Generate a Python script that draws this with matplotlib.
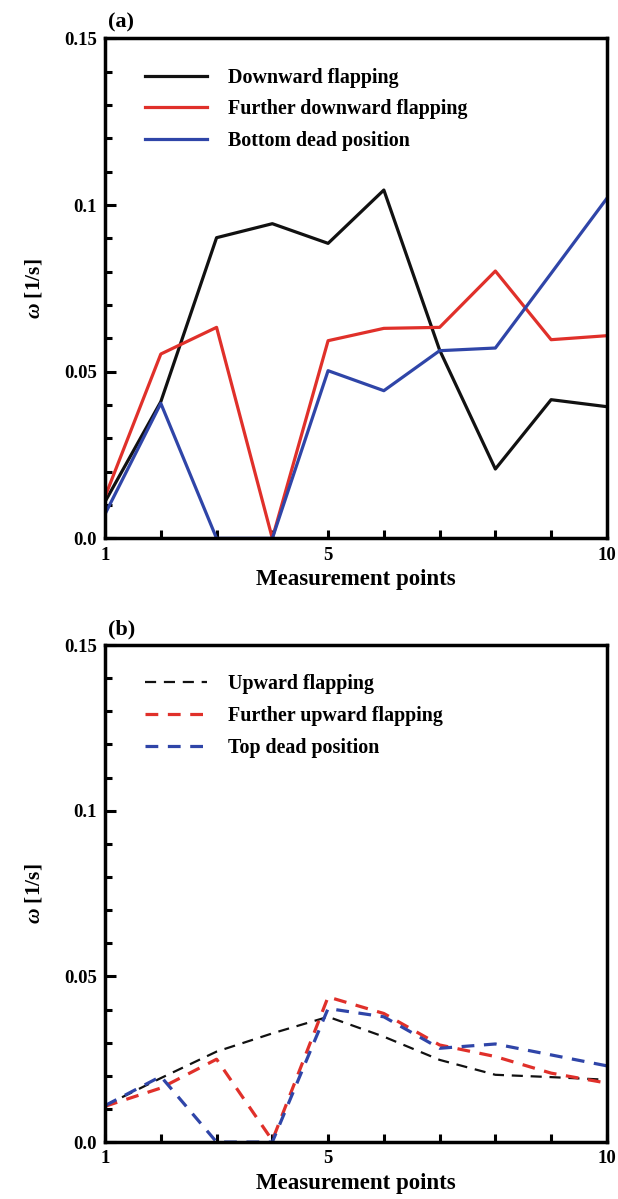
import numpy as np
import matplotlib.pyplot as plt
from matplotlib.ticker import MultipleLocator, FixedLocator

plt.rcParams['font.family'] = ['Liberation Serif', 'DejaVu Serif']
plt.rcParams['font.weight'] = 'bold'
plt.rcParams['mathtext.fontset'] = 'custom'
plt.rcParams['mathtext.bfit'] = 'Liberation Serif:bold:italic'
plt.rcParams['mathtext.rm'] = 'Liberation Serif:bold'

points = np.arange(1, 11)

# panel (a): downstroke
down = [0.011, 0.041, 0.0902, 0.0944, 0.0885, 0.1045, 0.0565, 0.0208, 0.0416, 0.0395]
further_down = [0.0125, 0.0553, 0.0633, 0.0, 0.0593, 0.063, 0.0633, 0.0802, 0.0596, 0.0608]
bottom_dead = [0.0073, 0.0405, 0.0, 0.0, 0.0503, 0.0443, 0.0563, 0.0571, 0.0795, 0.102]

# panel (b): upstroke
up = [0.011, 0.0193, 0.0273, 0.0328, 0.0378, 0.0318, 0.0248, 0.0203, 0.0196, 0.0188]
further_up = [0.0108, 0.0163, 0.025, 0.0005, 0.0438, 0.0388, 0.0293, 0.0258, 0.0208, 0.0178]
top_dead = [0.011, 0.0198, 0.0, 0.0, 0.0403, 0.0378, 0.0283, 0.0296, 0.0263, 0.023]

labels_a = ['Downward flapping', 'Further downward flapping', 'Bottom dead position']
labels_b = ['Upward flapping', 'Further upward flapping', 'Top dead position']

BLACK = '#111111'
RED = '#e0302a'
BLUE = '#2f45a8'

fig = plt.figure(figsize=(6.18, 11.99), dpi=100)
ax1 = fig.add_axes([0.170, 0.551, 0.812, 0.417])
ax2 = fig.add_axes([0.170, 0.0475, 0.812, 0.4145])

ax1.plot(points, down, color=BLACK, lw=2.3, label=labels_a[0])
ax1.plot(points, further_down, color=RED, lw=2.3, label=labels_a[1])
ax1.plot(points, bottom_dead, color=BLUE, lw=2.3, label=labels_a[2])

ax2.plot(points, up, color=BLACK, lw=1.6, ls=(0, (5, 3.5)), label=labels_b[0])
ax2.plot(points, further_up, color=RED, lw=2.3, ls=(0, (4, 3)), label=labels_b[1])
ax2.plot(points, top_dead, color=BLUE, lw=2.3, ls=(0, (4, 3)), label=labels_b[2])

for ax, tag in [(ax1, '(a)'), (ax2, '(b)')]:
    ax.set_xlim(1, 10)
    ax.set_ylim(0, 0.15)
    ax.xaxis.set_major_locator(FixedLocator(points))
    ax.set_xticklabels(['1', '', '', '', '5', '', '', '', '', '10'])
    ax.yaxis.set_major_locator(FixedLocator([0.0, 0.05, 0.1, 0.15]))
    ax.set_yticklabels(['0.0', '0.05', '0.1', '0.15'])
    ax.yaxis.set_minor_locator(MultipleLocator(0.01))
    ax.tick_params(axis='both', which='major', direction='in', length=8, width=2.2,
                   labelsize=13.5, pad=6)
    ax.tick_params(axis='y', which='minor', direction='in', length=5, width=2.2)
    ax.tick_params(axis='x', which='major', length=6)
    for s in ax.spines.values():
        s.set_linewidth(2.5)
    ax.set_xlabel('Measurement points', fontsize=16.5, fontweight='bold', labelpad=4)
    ax.set_ylabel(r'$\mathbfit{\omega}$ [1/s]', fontsize=15.5, fontweight='bold', labelpad=14)
    ax.text(0.005, 1.012, tag, transform=ax.transAxes, fontsize=16, fontweight='bold',
            ha='left', va='bottom')
    ax.legend(loc='upper left', bbox_to_anchor=(0.055, 0.965), frameon=False,
              prop={'size': 14.4, 'weight': 'bold'}, handlelength=3.1,
              handletextpad=1.05, labelspacing=0.58, borderaxespad=0.2)

fig.savefig('out.png', dpi=100)
